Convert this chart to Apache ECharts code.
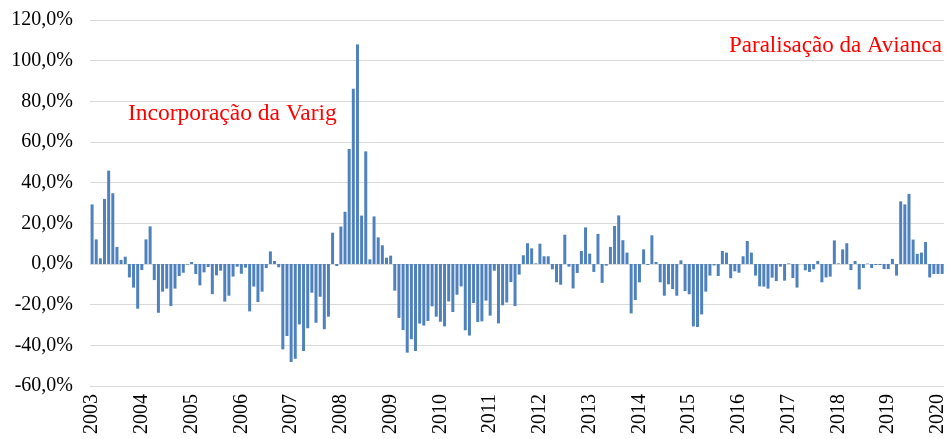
<!DOCTYPE html>
<html>
<head>
<meta charset="utf-8">
<title>Variação mensal</title>
<script src="https://cdn.jsdelivr.net/npm/echarts@6/dist/echarts.min.js"></script>
<style>
    html, body { margin: 0; padding: 0; background: #fff; }
    #chart { width: 948px; height: 439px; }
</style>
</head>
<body>
<div id="chart"></div>
<script type="text/javascript">
    // anos do eixo (um rótulo por janeiro)
    let years = ['2003', '2004', '2005', '2006', '2007', '2008', '2009', '2010', '2011',
        '2012', '2013', '2014', '2015', '2016', '2017', '2018', '2019', '2020'];
    let months = ['01', '02', '03', '04', '05', '06', '07', '08', '09', '10', '11', '12'];

    // variação mensal (%), jan/2003 a fev/2020
    let values = [
        29.3, 12.1, 2.8, 32.0, 45.9, 34.8, 8.4, 2.0, 3.6, -6.6, -11.6, -22.0,
        -3.0, 12.1, 18.5, -7.9, -24.0, -13.6, -12.1, -20.7, -12.1, -5.9, -4.3, -0.3,
        1.0, -4.9, -10.5, -4.1, -1.5, -14.8, -5.6, -3.3, -18.5, -15.6, -6.2, -1.3,
        -4.8, -1.8, -23.3, -11.1, -18.7, -13.6, -2.0, 6.2, 1.5, -1.6, -42.0, -35.4,
        -48.2, -46.6, -29.7, -42.8, -31.6, -14.1, -28.9, -16.1, -32.1, -25.9, 15.4, -1.0,
        18.4, 25.7, 56.6, 86.2, 108.0, 23.8, 55.4, 2.3, 23.4, 13.1, 9.2, 3.1,
        4.1, -13.1, -26.5, -32.5, -43.6, -37.0, -42.8, -29.3, -30.3, -28.0, -20.8, -25.9,
        -28.4, -30.7, -18.4, -23.6, -15.1, -11.0, -32.6, -35.2, -19.2, -28.5, -28.2, -18.0,
        -25.4, -3.3, -29.2, -20.3, -18.9, -8.9, -20.7, -5.2, 4.3, 10.2, 7.7, 0.3,
        10.0, 3.8, 3.8, -2.6, -9.0, -10.2, 14.4, -1.3, -12.0, -4.4, 6.4, 18.0,
        5.1, -3.9, 14.8, -9.3, -0.8, 8.4, 18.7, 23.9, 11.7, 5.6, -24.3, -17.7,
        -9.0, 7.2, -0.5, 14.1, 1.0, -9.0, -15.6, -10.0, -12.3, -15.6, 1.8, -13.3,
        -14.9, -30.7, -31.0, -24.8, -13.6, -5.7, -0.7, -5.9, 6.4, 5.6, -7.0, -3.6,
        -4.3, 3.8, 11.3, 5.6, -5.7, -11.0, -11.1, -12.1, -6.7, -8.4, -1.3, -8.2,
        0.3, -6.9, -11.6, 0.0, -3.1, -3.9, -2.6, 1.5, -9.0, -6.6, -6.2, 11.6,
        0.3, 7.2, 10.2, -3.0, 1.5, -12.5, -2.0, 0.2, -2.0, -0.5, -0.5, -2.5,
        -2.5, 2.5, -5.7, 30.8, 29.3, 34.5, 12.0, 5.0, 5.6, 10.8, -6.6, -4.9,
        -4.9, -4.9
    ];

    let notes = ['Incorporação da Varig', 'Paralisação da Avianca'];

    let categories = [];
    years.forEach(function (y) {
        months.forEach(function (m) { categories.push(y + '-' + m); });
    });
    categories = categories.slice(0, values.length);

    let serif = '"Liberation Serif", "Times New Roman", serif';

    let chart = echarts.init(document.getElementById('chart'));

    let option = {
        animation: false,
        backgroundColor: '#ffffff',
        grid: {
            left: 90,
            right: 0,
            top: 20,
            bottom: 53
        },
        xAxis: {
            type: 'category',
            data: categories,
            axisLine: { show: false },
            axisTick: { show: false },
            splitLine: { show: false },
            axisLabel: {
                interval: function (index) { return index % 12 === 0; },
                formatter: function (v) { return v.slice(0, 4); },
                rotate: 90,
                margin: 8,
                color: '#000',
                fontFamily: serif,
                fontSize: 20
            }
        },
        yAxis: {
            type: 'value',
            min: -60,
            max: 120,
            interval: 20,
            axisLine: { show: false },
            axisTick: { show: false },
            splitLine: { lineStyle: { color: '#d9d9d9', width: 1 } },
            axisLabel: {
                margin: 17,
                color: '#000',
                fontFamily: serif,
                fontSize: 20,
                formatter: function (v) { return v.toFixed(1).replace('.', ',') + '%'; }
            }
        },
        series: [
            {
                type: 'bar',
                data: values,
                barCategoryGap: '28%',
                itemStyle: { color: '#4f81bd' }
            }
        ],
        graphic: [
            {
                type: 'text',
                left: 128,
                top: 102,
                style: { text: notes[0], fill: '#ff0000', font: '23.5px ' + serif }
            },
            {
                type: 'text',
                left: 729,
                top: 34,
                style: { text: notes[1], fill: '#ff0000', font: '23px ' + serif }
            }
        ]
    };

    chart.setOption(option);
</script>
</body>
</html>
